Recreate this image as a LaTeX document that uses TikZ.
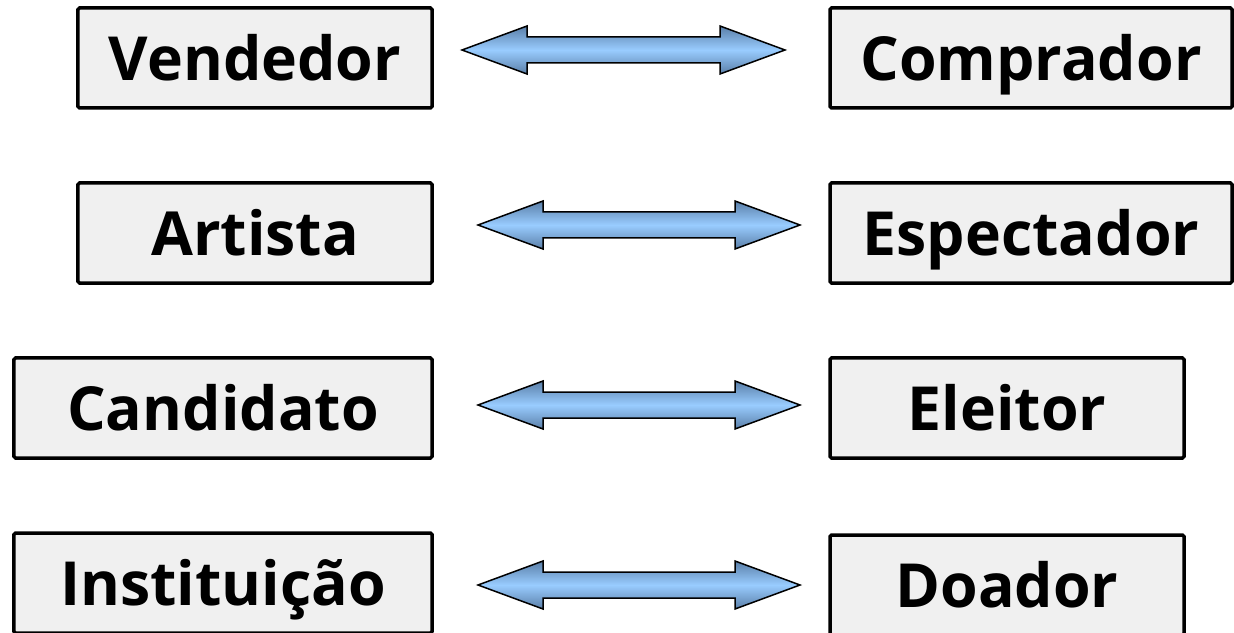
\documentclass[tikz,border=0pt]{standalone}
\usepackage{fontspec}
\setmainfont{Open Sans}
\begin{document}
\begin{tikzpicture}[x=1bp,y=-1bp,
  rolebox/.style={draw=black, line width=3.5bp, rounded corners=1.5bp, fill=gray!12,
    minimum height=100bp, inner sep=0pt, text height=45bp, text depth=0bp,
    font=\fontsize{61}{64}\selectfont\bfseries},
  arrowfill/.style={draw=black, line width=1.5bp, top color=arrowdark, bottom color=arrowdark, middle color=arrowlight}]
\definecolor{arrowlight}{HTML}{99CCFF}
\definecolor{arrowdark}{HTML}{5A7FA8}
\useasboundingbox (0,0) rectangle (1234,633);
\newcommand{\dblarrow}[3]{% left x, right x, center y
  \path[arrowfill] (#1,#3) -- ++(65,-24) -- ++(0,11) -- (#2-65,#3-13) -- ++(0,-11) -- (#2,#3)
    -- ++(-65,24) -- ++(0,-11) -- (#1+65,#3+13) -- ++(0,11) -- cycle;}
\node[rolebox, minimum width=354bp] (vend) at (255,58) {Vendedor};
\node[rolebox, minimum width=402bp] (comp) at (1031,58) {Comprador};
\node[rolebox, minimum width=354bp] (art) at (255,233) {Artista};
\node[rolebox, minimum width=402bp] (espec) at (1031,233) {Espectador};
\node[rolebox, minimum width=418bp] (cand) at (223,408) {Candidato};
\node[rolebox, minimum width=354bp] (eleit) at (1007,408) {Eleitor};
\node[rolebox, minimum width=418bp] (inst) at (223,583) {Instituição};
\node[rolebox, minimum width=354bp] (doad) at (1007,585) {Doador};
\dblarrow{462}{785}{50}
\dblarrow{478}{800}{225}
\dblarrow{478}{800}{405}
\dblarrow{478}{800}{585}
\end{tikzpicture}
\end{document}
